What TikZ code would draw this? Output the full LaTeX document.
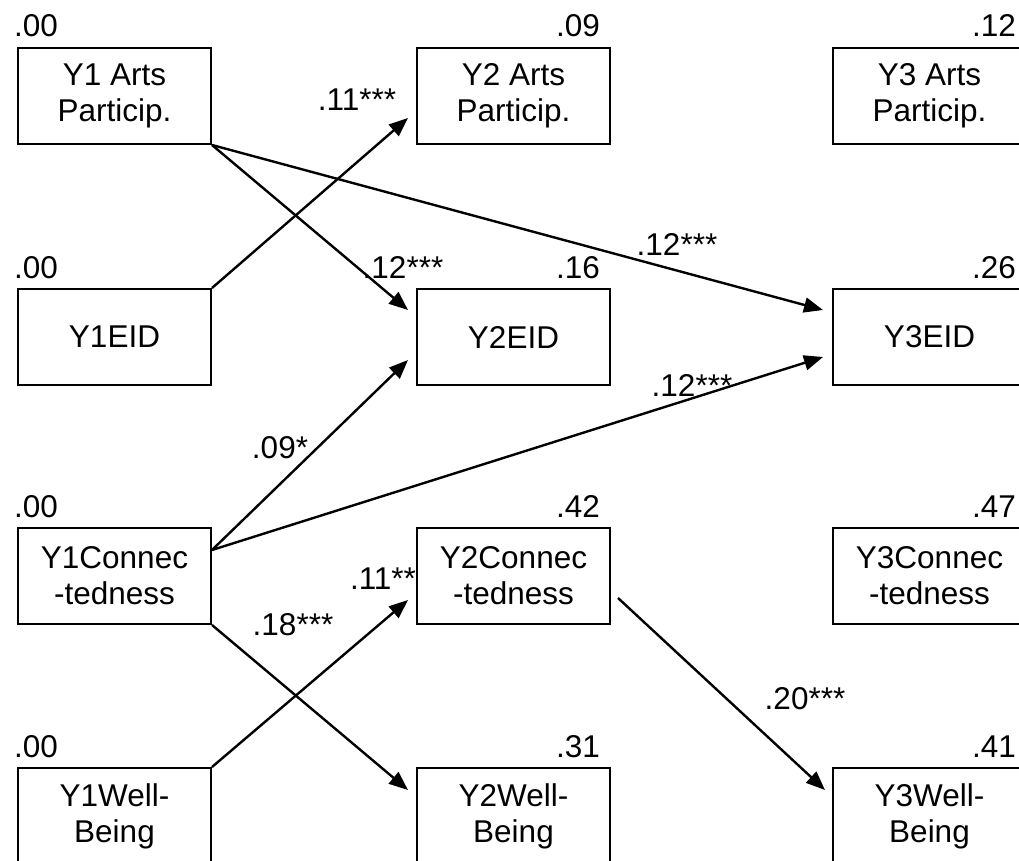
\documentclass[tikz,border=0pt]{standalone}
\usepackage{fontspec}
\setmainfont{Liberation Sans}
\usetikzlibrary{arrows.meta,calc}
\begin{document}
\begin{tikzpicture}[x=1pt,y=-1pt,
  var/.style={draw, line width=2pt, minimum width=193pt, minimum height=96pt,
    inner sep=0pt, align=center, font=\fontsize{31.5}{36}\selectfont, anchor=north west},
  pathto/.style={line width=2.4pt, -{Triangle[length=19pt,width=15pt]}},
  coef/.style={font=\fontsize{31.5}{36}\selectfont, inner sep=0pt},
  rsq/.style={font=\fontsize{31.5}{36}\selectfont, inner sep=0pt}]
\useasboundingbox (0,0) rectangle (1019,861);
\clip (0,0) rectangle (1019,861);

% variables: three waves (columns) by four constructs (rows)
\node[var] (y1arts) at (17,47)  {Y1 Arts\\Particip.};
\node[var] (y2arts) at (416,47) {Y2 Arts\\Particip.};
\node[var] (y3arts) at (832,47) {Y3 Arts\\Particip.};

\node[var] (y1eid) at (17,288)  {Y1EID};
\node[var] (y2eid) at (416,288) {Y2EID};
\node[var] (y3eid) at (832,288) {Y3EID};

\node[var] (y1con) at (17,527)  {Y1Connec\\-tedness};
\node[var] (y2con) at (416,527) {Y2Connec\\-tedness};
\node[var] (y3con) at (832,527) {Y3Connec\\-tedness};

\node[var] (y1wb) at (17,767)  {Y1Well-\\Being};
\node[var] (y2wb) at (416,767) {Y2Well-\\Being};
\node[var] (y3wb) at (832,767) {Y3Well-\\Being};

% explained variance
\node[rsq, anchor=base west] at ($(y1arts.north west)+(-3,-10)$) {.00};
\node[rsq, anchor=base west] at ($(y1eid.north west)+(-3,-10)$)  {.00};
\node[rsq, anchor=base west] at ($(y1con.north west)+(-3,-10)$)  {.00};
\node[rsq, anchor=base west] at ($(y1wb.north west)+(-3,-10)$)   {.00};

\node[rsq, anchor=base east] at ($(y2arts.north east)+(-11,-10)$) {.09};
\node[rsq, anchor=base east] at ($(y2eid.north east)+(-11,-10)$)  {.16};
\node[rsq, anchor=base east] at ($(y2con.north east)+(-11,-10)$)  {.42};
\node[rsq, anchor=base east] at ($(y2wb.north east)+(-11,-10)$)   {.31};

\node[rsq, anchor=base east] at ($(y3arts.north east)+(-11,-10)$) {.12};
\node[rsq, anchor=base east] at ($(y3eid.north east)+(-11,-10)$)  {.26};
\node[rsq, anchor=base east] at ($(y3con.north east)+(-11,-10)$)  {.47};
\node[rsq, anchor=base east] at ($(y3wb.north east)+(-11,-10)$)   {.41};

% cross-lagged paths
\draw[pathto] (y1arts.south east) -- ($(y2eid.north west)+(-8,22)$);
\draw[pathto] (y1arts.south east) -- ($(y3eid.north west)+(-9,22)$);
\draw[pathto] (y1eid.north east)  -- ($(y2arts.north west)+(-8,71)$);
\draw[pathto] ($(y1con.north east)+(0,23)$) -- ($(y2eid.north west)+(-8,72)$);
\draw[pathto] ($(y1con.north east)+(0,23)$) -- ($(y3eid.north west)+(-9,69)$);
\draw[pathto] (y1con.south east) -- ($(y2wb.north west)+(-8,23)$);
\draw[pathto] (y1wb.north east)  -- ($(y2con.north west)+(-8,73)$);
\draw[pathto] ($(y2con.north east)+(7,71)$) -- ($(y3wb.north west)+(-7,23)$);

% path coefficients
\node[coef] at (357,100) {.11***};
\node[coef] at (403,268) {.12***};
\node[coef] at (677,245) {.12***};
\node[coef] at (692,385) {.12***};
\node[coef] at (280,448) {.09*};
\node[coef] at (383,579) {.11**};
\node[coef] at (293,625) {.18***};
\node[coef] at (805,699) {.20***};
\end{tikzpicture}
\end{document}
